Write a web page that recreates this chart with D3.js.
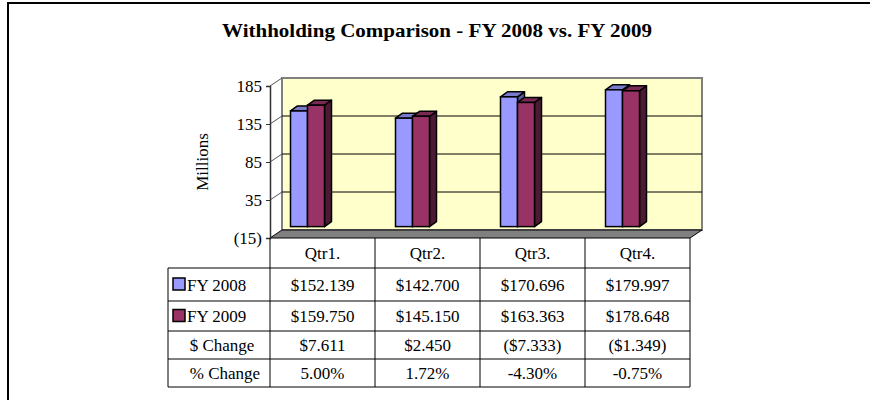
<!DOCTYPE html>
<html>
<head>
<meta charset="utf-8">
<script src="https://cdn.jsdelivr.net/npm/d3@7/dist/d3.min.js"></script>
<style>
  body { margin: 0; background: #fff; }
  svg text { font-family: "Liberation Serif", "Times New Roman", serif; fill: #000; }
</style>
</head>
<body>
<svg id="chart" width="870" height="400"></svg>
<script>
// data
const quarters = ["Qtr1.", "Qtr2.", "Qtr3.", "Qtr4."];
const fy2008 = [152.139, 142.700, 170.696, 179.997];
const fy2009 = [159.750, 145.150, 163.363, 178.648];
const dollarChange = ["$7.611", "$2.450", "($7.333)", "($1.349)"];
const pctChange = ["5.00%", "1.72%", "-4.30%", "-0.75%"];
const yTicks = [-15, 35, 85, 135, 185];
const seriesNames = ["FY 2008", "FY 2009"];

const colors = {
    fy2008: { front: "#9999ff", side: "#5c5c99", top: "#7a7acc" },
    fy2009: { front: "#993366", side: "#4d1a33", top: "#7a2952" }
};

const svg = d3.select("#chart");

// outer frame (runs off the page to the right and bottom)
svg.append("rect")
    .attr("x", 8).attr("y", 3)
    .attr("width", 900).attr("height", 420)
    .attr("fill", "none").attr("stroke", "#000").attr("stroke-width", 2);

// title
svg.append("text")
    .attr("x", 437).attr("y", 37)
    .attr("text-anchor", "middle")
    .attr("font-size", 19).attr("font-weight", "bold")
    .attr("textLength", 430).attr("lengthAdjust", "spacingAndGlyphs")
    .text("Withholding Comparison - FY 2008 vs. FY 2009");

// scales
const x = d3.scaleBand().domain(quarters).range([270, 690]);
const y = d3.scaleLinear().domain([-15, 185]).range([238, 86]);
const dx = 12, dy = -8;          // depth of the plot box
const bdx = 7, bdy = -5;         // depth of each bar

// side wall
svg.append("polygon")
    .attr("points", [[270, y(185)], [270 + dx, y(185) + dy], [270 + dx, y(-15) + dy], [270, y(-15)]].join(" "))
    .attr("fill", "#fff");

// back wall
svg.append("rect")
    .attr("x", 270 + dx).attr("y", y(185) + dy)
    .attr("width", 420).attr("height", y(-15) - y(185))
    .attr("fill", "#ffffcc").attr("stroke", "#808080").attr("stroke-width", 2);

// gridlines on back wall
svg.append("g").selectAll("line")
    .data(yTicks.slice(1, -1))
    .join("line")
    .attr("x1", 270 + dx).attr("x2", 690 + dx)
    .attr("y1", d => y(d) + dy).attr("y2", d => y(d) + dy)
    .attr("stroke", "#000").attr("stroke-width", 1);

// diagonal tick connectors on side wall
svg.append("g").selectAll("line")
    .data(yTicks.slice(1))
    .join("line")
    .attr("x1", 270).attr("x2", 270 + dx)
    .attr("y1", d => y(d)).attr("y2", d => y(d) + dy)
    .attr("stroke", "#555").attr("stroke-width", 1);

// floor
svg.append("polygon")
    .attr("points", [[270, y(-15)], [270 + dx, y(-15) + dy], [690 + dx, y(-15) + dy], [690, y(-15)]].join(" "))
    .attr("fill", "#808080").attr("stroke", "#000").attr("stroke-width", 1);

// value axis
const yAxis = svg.append("g")
    .attr("transform", "translate(270,0)")
    .call(d3.axisLeft(y).tickValues(yTicks).tickSize(4).tickFormat(d => d < 0 ? "(" + (-d) + ")" : d));
yAxis.select(".domain").attr("stroke", "#333").attr("stroke-width", 1.5);
yAxis.selectAll(".tick line").attr("stroke", "#333");
yAxis.selectAll(".tick text")
    .attr("font-size", 17)
    .attr("font-family", "Liberation Serif, serif")
    .attr("x", -8);

svg.append("text")
    .attr("transform", "translate(208,162) rotate(-90)")
    .attr("text-anchor", "middle")
    .attr("font-size", 17)
    .text("Millions");

// bars
const barW = 17;
const bars = [];
quarters.forEach((q, i) => {
    const x0 = x(q) + x.bandwidth() / 2 - 32;
    bars.push({ x: x0, v: fy2008[i], c: colors.fy2008 });
    bars.push({ x: x0 + barW, v: fy2009[i], c: colors.fy2009 });
});

const barG = svg.append("g").selectAll("g")
    .data(bars)
    .join("g");

barG.append("polygon")
    .attr("points", d => [[d.x + barW, y(d.v)], [d.x + barW + bdx, y(d.v) + bdy], [d.x + barW + bdx, y(0) + bdy], [d.x + barW, y(0)]].join(" "))
    .attr("fill", d => d.c.side).attr("stroke", "#000").attr("stroke-width", 1.5).attr("stroke-linejoin", "round");
barG.append("polygon")
    .attr("points", d => [[d.x, y(d.v)], [d.x + bdx, y(d.v) + bdy], [d.x + barW + bdx, y(d.v) + bdy], [d.x + barW, y(d.v)]].join(" "))
    .attr("fill", d => d.c.top).attr("stroke", "#000").attr("stroke-width", 1.5).attr("stroke-linejoin", "round");
barG.append("rect")
    .attr("x", d => d.x).attr("y", d => y(d.v))
    .attr("width", barW).attr("height", d => y(0) - y(d.v))
    .attr("fill", d => d.c.front).attr("stroke", "#000").attr("stroke-width", 1.5);

// data table
const rowEdges = [238, 268, 301, 331, 359, 387];
const tableLeft = 168;
const tbl = svg.append("g");

rowEdges.slice(1).forEach(ry => {
    tbl.append("line").attr("x1", tableLeft).attr("x2", 690).attr("y1", ry).attr("y2", ry)
        .attr("stroke", "#000").attr("stroke-width", 1);
});
tbl.append("line").attr("x1", tableLeft).attr("x2", tableLeft).attr("y1", rowEdges[1]).attr("y2", rowEdges[5])
    .attr("stroke", "#000").attr("stroke-width", 1);
quarters.concat([null]).forEach((q, i) => {
    const cx = q ? x(q) : x.range()[1];
    tbl.append("line").attr("x1", cx).attr("x2", cx).attr("y1", rowEdges[0]).attr("y2", rowEdges[5])
        .attr("stroke", "#000").attr("stroke-width", 1);
});

const rowBase = i => (rowEdges[i] + rowEdges[i + 1]) / 2 + 6;
const rows = [quarters,
    fy2008.map(v => "$" + v.toFixed(3)),
    fy2009.map(v => "$" + v.toFixed(3)),
    dollarChange, pctChange];

rows.forEach((vals, r) => {
    tbl.append("g").selectAll("text")
        .data(vals)
        .join("text")
        .attr("x", (d, i) => x(quarters[i]) + x.bandwidth() / 2)
        .attr("y", rowBase(r))
        .attr("text-anchor", "middle")
        .attr("font-size", 17)
        .text(d => d);
});

// legend keys + row labels
[colors.fy2008, colors.fy2009].forEach((c, i) => {
    const cy = (rowEdges[i + 1] + rowEdges[i + 2]) / 2;
    tbl.append("rect").attr("x", 173).attr("y", cy - 6.5).attr("width", 12).attr("height", 12)
        .attr("fill", c.front).attr("stroke", "#000").attr("stroke-width", 1.5);
    tbl.append("text").attr("x", 187).attr("y", rowBase(i + 1)).attr("font-size", 17).text(seriesNames[i]);
});
tbl.append("text").attr("x", 222).attr("y", rowBase(3)).attr("text-anchor", "middle").attr("font-size", 17).text("$ Change");
tbl.append("text").attr("x", 225).attr("y", rowBase(4)).attr("text-anchor", "middle").attr("font-size", 17).text("% Change");
</script>
</body>
</html>
